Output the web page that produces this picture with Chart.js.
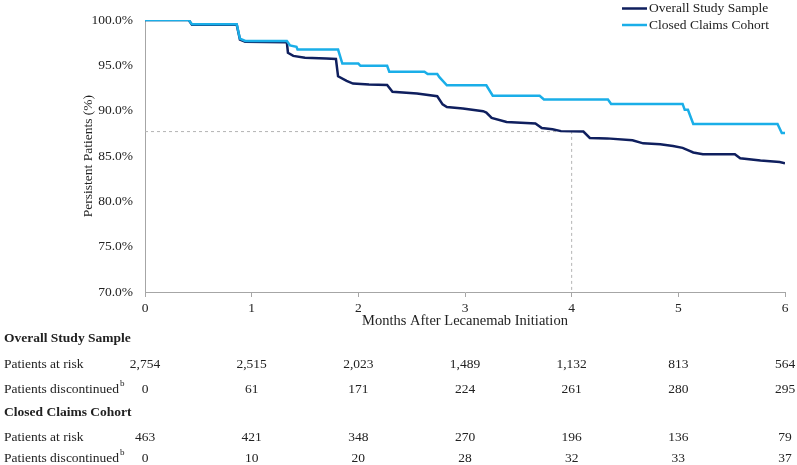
<!DOCTYPE html>
<html>
<head>
<meta charset="utf-8">
<script src="https://cdn.jsdelivr.net/npm/chart.js@4.4.1/dist/chart.umd.min.js"></script>
<style>
  html, body { margin: 0; padding: 0; background: #fff; }
  #wrap { width: 797px; height: 465px; }
</style>
</head>
<body>
<div id="wrap"><canvas id="kmChart" width="797" height="465"></canvas></div>
<script>
// Kaplan-Meier persistence curves (months, % persistent)
const overallMonths = [0, 0.41, 0.44, 0.86, 0.89, 0.94, 1.33, 1.34, 1.39, 1.5, 1.7, 1.79, 1.81, 1.89, 1.95, 2.1, 2.27, 2.32, 2.55, 2.74, 2.79, 2.83, 2.98, 3.17, 3.2, 3.25, 3.39, 3.66, 3.72, 3.82, 3.9, 4.11, 4.17, 4.33, 4.57, 4.67, 4.83, 4.95, 5.04, 5.1, 5.14, 5.23, 5.53, 5.58, 5.77, 5.95, 6];
const overallPersist = [100, 100, 99.5, 99.5, 97.85, 97.6, 97.55, 96.4, 96.05, 95.85, 95.75, 95.7, 93.8, 93.3, 93.0, 92.9, 92.85, 92.1, 91.9, 91.6, 90.7, 90.4, 90.25, 89.95, 89.8, 89.2, 88.75, 88.6, 88.1, 87.95, 87.75, 87.7, 87.0, 86.95, 86.75, 86.4, 86.3, 86.1, 85.9, 85.6, 85.4, 85.2, 85.2, 84.75, 84.5, 84.35, 84.2];

const closedMonths = [0, 0.41, 0.44, 0.86, 0.89, 0.94, 1.33, 1.36, 1.42, 1.43, 1.81, 1.85, 2.0, 2.02, 2.27, 2.29, 2.62, 2.65, 2.74, 2.76, 2.83, 3.2, 3.26, 3.7, 3.74, 4.34, 4.37, 5.04, 5.06, 5.09, 5.14, 5.93, 5.97, 6];
const closedPersist = [100, 100, 99.55, 99.55, 97.95, 97.7, 97.7, 97.2, 97.05, 96.75, 96.75, 95.2, 95.2, 94.95, 94.95, 94.3, 94.3, 94.05, 94.05, 93.7, 92.8, 92.8, 91.65, 91.65, 91.25, 91.25, 90.75, 90.75, 90.1, 90.1, 88.55, 88.55, 87.55, 87.55];

// dashed reference at month 4
const refMonth = 4;
const refPersist = 87.7;

// risk table
const tableMonths = [0, 1, 2, 3, 4, 5, 6];
const overallAtRisk = ['2,754', '2,515', '2,023', '1,489', '1,132', '813', '564'];
const overallDisc = ['0', '61', '171', '224', '261', '280', '295'];
const closedAtRisk = ['463', '421', '348', '270', '196', '136', '79'];
const closedDisc = ['0', '10', '20', '28', '32', '33', '37'];

const seriesNames = ['Overall Study Sample', 'Closed Claims Cohort'];
const DARK = '#0f1f5e';
const LIGHT = '#1aaee8';
const FONT = '"Liberation Serif", "Times New Roman", serif';
const TEXT = '#222';

const toPoints = (xs, ys) => xs.map((x, i) => ({ x: x, y: ys[i] }));

const legendPlugin = {
  id: 'sideLegend',
  afterDraw(chart) {
    const ctx = chart.ctx;
    ctx.save();
    ctx.font = '13.5px ' + FONT;
    ctx.textBaseline = 'middle';
    ctx.fillStyle = TEXT;
    [[DARK, 8.5], [LIGHT, 25]].forEach(([c, y], i) => {
      ctx.strokeStyle = c;
      ctx.lineWidth = 2.5;
      ctx.beginPath();
      ctx.moveTo(622, y);
      ctx.lineTo(647, y);
      ctx.stroke();
      ctx.fillText(seriesNames[i], 649, y);
    });
    ctx.restore();
  }
};

const riskTablePlugin = {
  id: 'riskTable',
  afterDraw(chart) {
    const ctx = chart.ctx;
    const xs = chart.scales.x;
    ctx.save();
    ctx.fillStyle = TEXT;
    ctx.textBaseline = 'middle';

    function heading(text, y) {
      ctx.font = 'bold 13.5px ' + FONT;
      ctx.textAlign = 'left';
      ctx.fillText(text, 4, y);
    }
    function row(label, sup, values, y) {
      ctx.font = '13.5px ' + FONT;
      ctx.textAlign = 'left';
      ctx.fillText(label, 4, y);
      if (sup) {
        const w = ctx.measureText(label).width;
        ctx.font = '9px ' + FONT;
        ctx.fillText(sup, 4 + w + 1, y - 5);
        ctx.font = '13.5px ' + FONT;
      }
      ctx.textAlign = 'center';
      values.forEach((v, i) => ctx.fillText(v, xs.getPixelForValue(tableMonths[i]), y));
    }

    heading('Overall Study Sample', 339);
    row('Patients at risk', '', overallAtRisk, 364);
    row('Patients discontinued', 'b', overallDisc, 389);
    heading('Closed Claims Cohort', 413);
    row('Patients at risk', '', closedAtRisk, 437);
    row('Patients discontinued', 'b', closedDisc, 458);
    ctx.restore();
  }
};

new Chart(document.getElementById('kmChart'), {
  type: 'line',
  data: {
    datasets: [
      {
        label: seriesNames[0],
        data: toPoints(overallMonths, overallPersist),
        borderColor: DARK,
        borderWidth: 2.5,
        pointRadius: 0,
        tension: 0,
        order: 1
      },
      {
        label: seriesNames[1],
        data: toPoints(closedMonths, closedPersist),
        borderColor: LIGHT,
        borderWidth: 2.5,
        pointRadius: 0,
        tension: 0,
        order: 0
      },
      {
        label: 'ref',
        data: [{ x: 0, y: refPersist }, { x: refMonth, y: refPersist }, { x: refMonth, y: 70 }],
        borderColor: '#b4b4b4',
        borderWidth: 1,
        borderDash: [3, 3],
        pointRadius: 0,
        order: 2
      }
    ]
  },
  options: {
    responsive: false,
    animation: false,
    layout: { padding: { top: 17, right: 12, left: 0, bottom: 0 } },
    plugins: {
      legend: { display: false },
      tooltip: { enabled: false }
    },
    scales: {
      x: {
        type: 'linear',
        min: 0,
        max: 6,
        afterFit: (s) => { s.height = 173; },
        ticks: {
          stepSize: 1,
          padding: 3,
          color: TEXT,
          font: { family: FONT, size: 13.5 }
        },
        grid: { drawOnChartArea: false, drawTicks: true, tickLength: 5, color: '#a6a6a6' },
        border: { color: '#a6a6a6', width: 1 },
        title: {
          display: true,
          text: 'Months After Lecanemab Initiation',
          color: TEXT,
          font: { family: FONT, size: 14.5 },
          padding: { top: 0, bottom: 135 }
        }
      },
      y: {
        min: 70,
        max: 100,
        afterFit: (s) => { s.width = 145; },
        ticks: {
          stepSize: 5,
          padding: 12,
          color: TEXT,
          font: { family: FONT, size: 13.5 },
          callback: (v) => v.toFixed(1) + '%'
        },
        grid: { display: false, drawTicks: false },
        border: { color: '#a6a6a6', width: 1 },
        title: {
          display: true,
          text: 'Persistent Patients (%)',
          color: TEXT,
          font: { family: FONT, size: 13.5 },
          padding: { top: 80, bottom: 0 }
        }
      }
    }
  },
  plugins: [legendPlugin, riskTablePlugin]
});
</script>
</body>
</html>
